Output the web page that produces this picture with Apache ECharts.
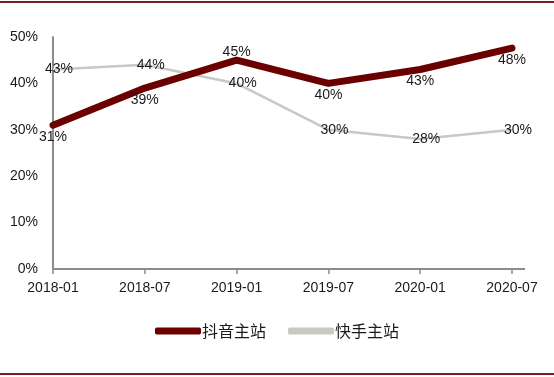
<!DOCTYPE html>
<html>
<head>
<meta charset="utf-8">
<script src="https://cdn.jsdelivr.net/npm/echarts@6/dist/echarts.min.js"></script>
<style>
  html, body { margin: 0; padding: 0; background: #fff; }
  #main { width: 554px; height: 377px; }
</style>
</head>
<body>
<div id="main"></div>
<script>
const months = ['2018-01', '2018-07', '2019-01', '2019-07', '2020-01', '2020-07'];
const douyin = [31, 39, 45, 40, 43, 47.6];
const kuaishou = [43, 44, 40, 30, 28, 30];
const yTicks = [0, 10, 20, 30, 40, 50];

const chart = echarts.init(document.getElementById('main'), null, { renderer: 'canvas' });

const axisFont = { fontFamily: 'Liberation Sans', fontSize: 14, color: '#1a1a1a' };
const pct = p => Math.round(p.value) + '%';

const option = {
  animation: false,
  grid: { left: 53, right: 42, top: 37, bottom: 108 },
  legend: {
    bottom: 33,
    left: 'center',
    itemWidth: 46,
    itemHeight: 7,
    itemGap: 22,
    textStyle: { fontFamily: 'Noto Sans CJK SC', fontSize: 16, color: '#1a1a1a', padding: [0, 0, 0, -4] },
    data: [
      { name: '抖音主站', icon: 'roundRect', itemStyle: { color: '#6b0000' } },
      { name: '快手主站', icon: 'roundRect', itemStyle: { color: '#c9c9c1' } }
    ]
  },
  xAxis: {
    type: 'category',
    boundaryGap: false,
    data: months,
    axisLine: { lineStyle: { color: '#8c8c8c', width: 2 } },
    axisTick: { show: true, length: 5, lineStyle: { color: '#8c8c8c', width: 1.5 } },
    axisLabel: Object.assign({ margin: 12 }, axisFont)
  },
  yAxis: {
    type: 'value',
    min: 0,
    max: 50,
    interval: 10,
    axisLine: { show: true, lineStyle: { color: '#8c8c8c', width: 2 } },
    axisTick: { show: false },
    splitLine: { show: false },
    axisLabel: Object.assign({ margin: 15, formatter: v => yTicks.includes(v) ? v + '%' : '' }, axisFont)
  },
  graphic: [
    { type: 'rect', shape: { x: 0, y: 1, width: 554, height: 2 }, style: { fill: '#7a1f1f' } },
    { type: 'rect', shape: { x: 0, y: 373, width: 554, height: 2 }, style: { fill: '#7a1f1f' } },
    { type: 'line', shape: { x1: 512, y1: 269, x2: 525, y2: 269 }, style: { stroke: '#8c8c8c', lineWidth: 2 } }
  ],
  series: [
    {
      name: '快手主站',
      type: 'line',
      data: kuaishou,
      symbol: 'circle',
      symbolSize: 0.1,
      lineStyle: { color: '#c9c9c1', width: 2.5 },
      itemStyle: { color: '#c9c9c1' },
      label: {
        show: true,
        position: 'inside',
        offset: [6, 0],
        formatter: pct,
        fontFamily: 'Liberation Sans',
        fontSize: 14,
        color: '#1a1a1a'
      },
      z: 2
    },
    {
      name: '抖音主站',
      type: 'line',
      // 45% label sits above the line
      data: douyin.map((v, i) => i === 2 ? { value: v, label: { position: 'top', distance: 1 } } : v),
      symbol: 'circle',
      symbolSize: 0.1,
      lineStyle: { color: '#6b0000', width: 7, cap: 'round', join: 'round' },
      itemStyle: { color: '#6b0000' },
      label: {
        show: true,
        position: 'bottom',
        distance: 5,
        formatter: pct,
        fontFamily: 'Liberation Sans',
        fontSize: 14,
        color: '#1a1a1a'
      },
      z: 3
    }
  ]
};

chart.setOption(option);
</script>
</body>
</html>
